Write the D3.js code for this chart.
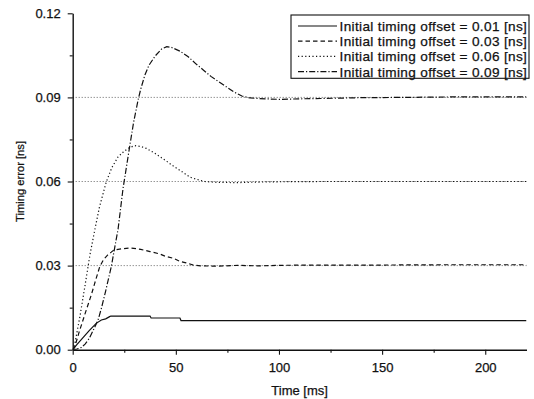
<!DOCTYPE html>
<html>
<head>
<meta charset="utf-8">
<script src="https://cdn.jsdelivr.net/npm/d3@7"></script>
<style>
  body { margin: 0; background: #fff; }
  svg { display: block; font-family: "Liberation Sans", Arial, Helvetica, sans-serif; }
</style>
</head>
<body>
<svg id="chart" width="534" height="399"></svg>
<script>
// ---- data ----
const xTicks = [0, 50, 100, 150, 200];
const xMinorTicks = [25, 75, 125, 175];
const yTicks = [0, 0.03, 0.06, 0.09, 0.12];
const yMinorTicks = [0.015, 0.045, 0.075, 0.105];
const referenceLevels = [0.03, 0.06, 0.09];
const seriesNames = [
  "Initial timing offset = 0.01 [ns]",
  "Initial timing offset = 0.03 [ns]",
  "Initial timing offset = 0.06 [ns]",
  "Initial timing offset = 0.09 [ns]"
];
const offset001 = [[0,0],[2,0.0018],[5,0.0043],[8,0.0068],[11.4,0.0094],[13.9,0.0106],[16,0.011],[17.9,0.0118],[18.5,0.012],[37.5,0.012],[38,0.0113],[52,0.0113],[52.5,0.0104],[220,0.0104]];
const offset003 = [[0,0],[1,0.001],[3,0.006],[6.6,0.0142],[9,0.0195],[11,0.0245],[13.1,0.0296],[15,0.0322],[17,0.0338],[18.7,0.0348],[20,0.0356],[24,0.036],[28,0.0363],[33,0.0358],[37.5,0.035],[42,0.0342],[45,0.0333],[48.8,0.0326],[52,0.0315],[55,0.031],[58.5,0.0302],[62,0.0299],[70,0.0298],[80,0.0301],[90,0.0299],[100,0.0301],[120,0.0302],[150,0.0302],[180,0.0303],[220,0.0303]];
const offset006 = [[0,0],[1,0.002],[3.5,0.0118],[6,0.023],[8.4,0.034],[10.7,0.0427],[13,0.051],[16.3,0.0599],[19,0.065],[22,0.0688],[24.5,0.0705],[26.8,0.0718],[30,0.0728],[33,0.0725],[35.7,0.0718],[40,0.0700],[44,0.0680],[48.8,0.0655],[53,0.0635],[57,0.0615],[60,0.0608],[64,0.0600],[70,0.0597],[80,0.0596],[90,0.0598],[100,0.0599],[120,0.0600],[160,0.0600],[220,0.0600]];
const offset009 = [[0,0],[2,0.0002],[4.2,0.0008],[6,0.002],[8,0.004],[10,0.007],[12.3,0.0106],[14,0.015],[16,0.021],[18.7,0.0296],[21,0.039],[22,0.043],[24.4,0.0575],[27.6,0.0724],[29.5,0.081],[31.7,0.0891],[33,0.093],[35,0.098],[37,0.1015],[40,0.1048],[43,0.1072],[45.6,0.1081],[48,0.1078],[52,0.1065],[56,0.1045],[60,0.1018],[63.3,0.0998],[67,0.0975],[71,0.0955],[75,0.0935],[78,0.092],[82,0.0905],[86,0.0898],[90,0.0896],[100,0.0893],[110,0.0895],[120,0.0896],[140,0.0899],[160,0.0900],[190,0.0902],[220,0.0902]];
const seriesData = [offset001, offset003, offset006, offset009];
const seriesDash = ["none", "4.5,3", "1.2,2.4", "6,2,1.2,2"];

// ---- layout ----
const svg = d3.select("#chart");
const mLeft = 72.7, mRight = 526.5, mTop = 13.3, mBottom = 349.7;
const x = d3.scaleLinear().domain([0, 220]).range([mLeft, mRight]);
const y = d3.scaleLinear().domain([0, 0.12]).range([mBottom, mTop]);
const ink = "#111";

svg.append("defs").append("clipPath").attr("id", "clip")
  .append("rect").attr("x", mLeft).attr("y", mTop - 2).attr("width", mRight - mLeft).attr("height", mBottom - mTop + 2);

// reference dotted levels
svg.append("g").selectAll("line").data(referenceLevels).join("line")
  .attr("x1", x(0)).attr("x2", x(220))
  .attr("y1", d => y(d)).attr("y2", d => y(d))
  .attr("stroke", "#555").attr("stroke-width", 0.9).attr("stroke-dasharray", "1,2");

// curves
const line = d3.line().x(d => x(d[0])).y(d => y(d[1]));
svg.append("g").attr("clip-path", "url(#clip)").selectAll("path").data(seriesData).join("path")
  .attr("d", line)
  .attr("fill", "none")
  .attr("stroke", ink)
  .attr("stroke-width", 1.2)
  .attr("stroke-dasharray", (d, i) => seriesDash[i]);

// axes
const fmt = d3.format(".2f");
svg.append("g").attr("transform", `translate(${mLeft},0)`)
  .call(d3.axisLeft(y).tickValues(yTicks).tickFormat(fmt).tickSize(5).tickSizeOuter(0).tickPadding(7));
svg.append("g").attr("transform", `translate(${mLeft},0)`)
  .call(d3.axisLeft(y).tickValues(yMinorTicks).tickFormat("").tickSize(3).tickSizeOuter(0))
  .select(".domain").remove();
svg.append("g").attr("transform", `translate(0,${mBottom})`)
  .call(d3.axisBottom(x).tickValues(xTicks).tickSize(5).tickSizeOuter(0).tickPadding(8));
svg.append("g").attr("transform", `translate(0,${mBottom})`)
  .call(d3.axisBottom(x).tickValues(xMinorTicks).tickFormat("").tickSize(3).tickSizeOuter(0))
  .select(".domain").remove();
svg.selectAll(".domain").attr("stroke", ink).attr("stroke-width", 1.4);
svg.selectAll(".tick line").attr("stroke", ink).attr("stroke-width", 1.1);
svg.selectAll(".tick text").attr("font-size", 13).attr("fill", ink)
  .attr("stroke", ink).attr("stroke-width", 0.25)
  .attr("font-family", '"Liberation Sans", Arial, sans-serif');

// axis titles
svg.append("text").attr("x", (mLeft + mRight) / 2).attr("y", 395)
  .attr("text-anchor", "middle").attr("font-size", 13).attr("fill", ink)
  .attr("stroke", ink).attr("stroke-width", 0.25).text("Time [ms]");
svg.append("text").attr("transform", `translate(24,${(mTop + mBottom) / 2}) rotate(-90)`)
  .attr("text-anchor", "middle").attr("font-size", 11.2).attr("fill", ink)
  .attr("stroke", ink).attr("stroke-width", 0.25).text("Timing error [ns]");

// legend
const lg = svg.append("g");
lg.append("rect").attr("x", 291).attr("y", 15).attr("width", 238).attr("height", 63.3)
  .attr("fill", "#fff").attr("stroke", ink).attr("stroke-width", 1.1);
const rows = lg.selectAll("g.row").data(seriesNames).join("g").attr("class", "row")
  .attr("transform", (d, i) => `translate(0,${26 + i * 15.2})`);
rows.append("line").attr("x1", 298).attr("x2", 337).attr("y1", 0).attr("y2", 0)
  .attr("stroke", ink).attr("stroke-width", 1.2).attr("stroke-dasharray", (d, i) => seriesDash[i]);
rows.append("text").attr("x", 339.5).attr("y", 5).attr("font-size", 13.6)
  .attr("letter-spacing", 0.35).attr("fill", ink)
  .attr("stroke", ink).attr("stroke-width", 0.25).text(d => d);
</script>
</body>
</html>
